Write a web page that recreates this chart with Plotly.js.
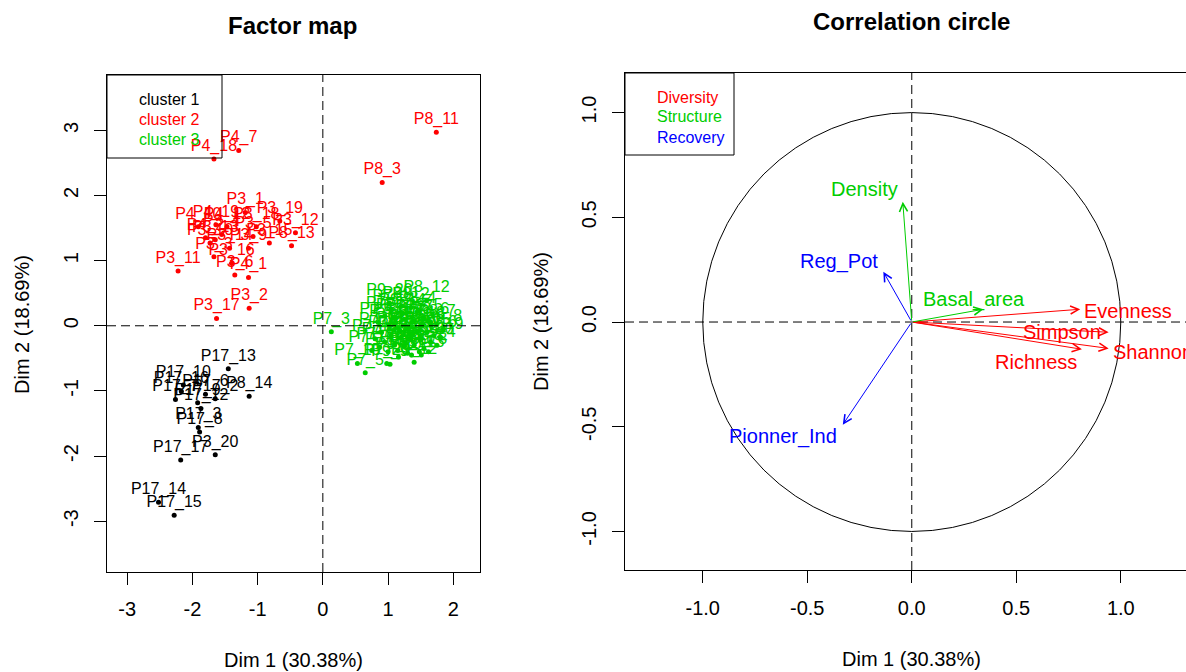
<!DOCTYPE html>
<html><head><meta charset="utf-8">
<script src="https://cdn.plot.ly/plotly-3.0.1.min.js"></script>
<style>html,body{margin:0;padding:0;background:#fff}#chart{width:1186px;height:672px}</style>
</head><body><div id="chart"></div>
<script>
// ---------- DATA: factor map (individuals) ----------
const cluster1Names = ["P17_13","P8_14","P17_10","P17_16","P17_7","P17_2","P17_9","P17_12","P17_3","P17_8","P3_20","P17_17","P17_14","P17_15","P17_6"];
const cluster1X = [-1.45,-1.13,-2.14,-2.17,-2.26,-1.65,-1.92,-1.87,-1.91,-1.89,-1.65,-2.18,-2.52,-2.28,-1.80];
const cluster1Y = [-0.66,-1.08,-0.91,-1.01,-1.13,-1.12,-1.18,-1.27,-1.56,-1.63,-1.98,-2.06,-2.71,-2.91,-1.05];

const cluster2Names = ["P8_11","P8_3","P4_7","P4_18","P3_1","P3_19","P3_12","P8_13","P3_15","P3_11","P3_6","P4_1","P3_2","P3_17","P4_19","P4_10","P4_12","P3_10","P3_13","P3_14","P3_3","P3_16","P3_9","P3_5","P3_18","P4_2","P3_4"];
const cluster2X = [1.74,0.91,-1.29,-1.67,-1.19,-0.66,-0.42,-0.48,-0.82,-2.22,-1.35,-1.14,-1.13,-1.63,-1.64,-1.91,-1.47,-1.73,-1.65,-1.43,-1.67,-1.40,-1.14,-1.07,-1.02,-1.80,-1.55];
const cluster2Y = [2.97,2.20,2.69,2.56,1.74,1.61,1.43,1.23,1.27,0.84,0.78,0.74,0.27,0.11,1.55,1.52,1.52,1.27,1.32,1.19,1.06,0.96,1.19,1.37,1.52,1.35,1.40];

const cluster3Names = ["P7_1","P7_2","P7_3","P7_4","P7_5","P7_6","P7_7","P7_8","P7_9","P7_10","P7_11","P7_12","P7_13","P7_14","P7_15","P7_16","P7_17","P7_18","P7_19","P7_20",
  "P8_1","P8_2","P8_4","P8_5","P8_6","P8_7","P8_8","P8_9","P8_10","P8_12","P8_15","P8_16","P8_17","P8_18","P8_19","P8_20",
  "P9_1","P9_2","P9_3","P9_4","P9_5","P9_6","P9_7","P9_8","P9_9","P9_10","P9_11","P9_12","P9_13","P9_14","P9_15","P9_16","P9_17","P9_18","P9_19","P9_20"];
const cluster3X = [1.05,0.95,0.13,1.10,0.65,1.25,1.40,0.85,1.00,1.15,0.90,1.05,0.80,0.95,0.53,1.10,0.75,1.00,0.87,0.98,
  1.20,1.35,1.45,1.55,1.65,1.75,1.85,1.30,1.45,1.59,1.60,1.70,1.20,1.35,1.50,1.65,
  1.25,1.40,1.55,1.75,1.15,1.30,1.48,1.62,1.03,1.16,1.36,1.40,1.51,1.22,1.12,1.38,1.18,1.52,1.80,1.02];
const cluster3Y = [0.25,0.15,-0.09,0.12,-0.72,0.10,0.08,0.05,0.02,-0.02,-0.10,-0.15,-0.20,-0.25,-0.58,-0.30,-0.38,-0.40,-0.33,-0.58,
  0.30,0.28,0.22,0.12,0.05,0.02,-0.05,-0.05,-0.08,0.39,-0.10,-0.15,-0.18,-0.20,-0.22,-0.25,
  -0.32,-0.30,-0.35,-0.30,-0.38,-0.42,-0.40,-0.40,-0.59,-0.48,-0.45,-0.56,-0.45,0.20,0.05,-0.12,-0.08,0.00,-0.18,0.35];

const clusterLabels = ["cluster 1","cluster 2","cluster 3"];

// ---------- DATA: correlation circle (variables) ----------
const varNames = ["Evenness","Simpson","Shannon","Richness","Basal_area","Density","Reg_Pot","Pionner_Ind"];
const varDim1  = [0.806, 0.942, 0.942, 0.814, 0.343, -0.043, -0.136, -0.330];
const varDim2  = [0.061, -0.049, -0.126, -0.130, 0.061, 0.574, 0.240, -0.490];
const varGroup = [0,0,0,0,1,1,2,2];
const groupLabels = ["Diversity","Structure","Recovery"];

const xTicksLeft = [-3,-2,-1,0,1,2];
const xTicksLeftText = ["-3","-2","-1","0","1","2"];
const yTicksLeft = [-3,-2,-1,0,1,2,3];
const yTicksLeftText = ["-3","-2","-1","0","1","2","3"];
const ticksRight = [-1,-0.5,0,0.5,1];
const ticksRightText = ["-1.0","-0.5","0.0","0.5","1.0"];

// ---------- STYLE ----------
const W = 1186, H = 672;
const FONT = "Liberation Sans, Arial, Helvetica, sans-serif";
const clusterColors = ["#000000","#FF0000","#00CD00"];
const groupColors = ["#FF0000","#00CD00","#0000FF"];
const px = v => v / W;
const py = v => 1 - v / H;

// label placement for variable names (pixel shifts relative to arrow tip)
const labelStyle = [
  {xanchor:"left",   xshift:2,   yshift:-2},
  {xanchor:"right",  xshift:-6,  yshift:0},
  {xanchor:"left",   xshift:2,   yshift:-4},
  {xanchor:"center", xshift:-46, yshift:-13},
  {xanchor:"center", xshift:-9,  yshift:10},
  {xanchor:"center", xshift:-38, yshift:13},
  {xanchor:"center", xshift:-44, yshift:10},
  {xanchor:"center", xshift:-60, yshift:-12}
];

const clusters = [
  [cluster1X, cluster1Y, cluster1Names],
  [cluster2X, cluster2Y, cluster2Names],
  [cluster3X, cluster3Y, cluster3Names]
];

const traces = clusters.map((c, i) => ({
  type: "scatter", mode: "markers+text",
  x: c[0], y: c[1], text: c[2],
  textposition: "top center",
  textfont: {family: FONT, size: 16, color: clusterColors[i]},
  marker: {size: 5, color: clusterColors[i]},
  xaxis: "x", yaxis: "y", hoverinfo: "skip", showlegend: false
}));

traces.push({
  type: "scatter", mode: "markers",
  x: varDim1, y: varDim2, marker: {size: 1, opacity: 0},
  xaxis: "x2", yaxis: "y2", hoverinfo: "skip", showlegend: false
});

const axisBase = {
  showgrid: false, zeroline: false, showline: true, linecolor: "#000", linewidth: 1,
  ticks: "outside", ticklen: 12, tickcolor: "#000", tickwidth: 1,
  tickfont: {family: FONT, size: 20, color: "#000"}, fixedrange: true
};

const dashLine = {color: "#000", width: 1, dash: "9px,5px"};

const shapes = [
  // factor map dashed axes
  {type:"line", xref:"x", yref:"y domain", x0:0, x1:0, y0:0, y1:1, line:dashLine},
  {type:"line", xref:"x domain", yref:"y", x0:0, x1:1, y0:0, y1:0, line:dashLine},
  // correlation circle dashed axes
  {type:"line", xref:"x2", yref:"y2 domain", x0:0, x1:0, y0:0, y1:1, line:dashLine},
  {type:"line", xref:"x2 domain", yref:"y2", x0:0, x1:1, y0:0, y1:0, line:dashLine},
  // unit circle
  {type:"circle", xref:"x2", yref:"y2", x0:-1, x1:1, y0:-1, y1:1, line:{color:"#000", width:1}},
  // legend boxes
  {type:"rect", xref:"paper", yref:"paper", x0:px(107), x1:px(222), y0:py(158), y1:py(75), line:{color:"#000", width:1}},
  {type:"rect", xref:"paper", yref:"paper", x0:px(625), x1:px(734), y0:py(155), y1:py(73), line:{color:"#000", width:1}}
];

const annotations = [];
// titles
annotations.push({xref:"paper", yref:"paper", x:px(292), y:py(26), text:"<b>Factor map</b>", showarrow:false, xanchor:"center", yanchor:"middle", font:{family:FONT, size:24, color:"#000"}});
annotations.push({xref:"paper", yref:"paper", x:px(911), y:py(22), text:"<b>Correlation circle</b>", showarrow:false, xanchor:"center", yanchor:"middle", font:{family:FONT, size:24, color:"#000"}});
// axis titles
annotations.push({xref:"paper", yref:"paper", x:px(293), y:py(660), text:"Dim 1 (30.38%)", showarrow:false, xanchor:"center", yanchor:"middle", font:{family:FONT, size:20, color:"#000"}});
annotations.push({xref:"paper", yref:"paper", x:px(911), y:py(659), text:"Dim 1 (30.38%)", showarrow:false, xanchor:"center", yanchor:"middle", font:{family:FONT, size:20, color:"#000"}});
annotations.push({xref:"paper", yref:"paper", x:px(22), y:py(325), text:"Dim 2 (18.69%)", textangle:-90, showarrow:false, xanchor:"center", yanchor:"middle", font:{family:FONT, size:20, color:"#000"}});
annotations.push({xref:"paper", yref:"paper", x:px(541), y:py(322), text:"Dim 2 (18.69%)", textangle:-90, showarrow:false, xanchor:"center", yanchor:"middle", font:{family:FONT, size:20, color:"#000"}});
// legends
clusterLabels.forEach((t, i) => annotations.push({xref:"paper", yref:"paper", x:px(137), y:py(99 + 20*i), text:t, showarrow:false, xanchor:"left", yanchor:"middle", font:{family:FONT, size:16, color:clusterColors[i]}}));
groupLabels.forEach((t, i) => annotations.push({xref:"paper", yref:"paper", x:px(655), y:py(97 + 20*i), text:t, showarrow:false, xanchor:"left", yanchor:"middle", font:{family:FONT, size:16, color:groupColors[i]}}));
// arrows and variable labels
varNames.forEach((name, i) => {
  const col = groupColors[varGroup[i]];
  annotations.push({xref:"x2", yref:"y2", axref:"x2", ayref:"y2", x:varDim1[i], y:varDim2[i], ax:0, ay:0,
    text:"", showarrow:true, arrowhead:5, arrowsize:1.6, arrowwidth:1, arrowcolor:col, standoff:0, startstandoff:0});
  const s = labelStyle[i];
  annotations.push({xref:"x2", yref:"y2", x:varDim1[i], y:varDim2[i], text:name, showarrow:false,
    xanchor:s.xanchor, yanchor:"middle", xshift:s.xshift, yshift:s.yshift,
    font:{family:FONT, size:20, color:col}});
});

const layout = {
  width: W, height: H,
  margin: {l:0, r:0, t:0, b:0},
  paper_bgcolor: "#fff", plot_bgcolor: "#fff",
  showlegend: false,
  font: {family: FONT, color: "#000"},
  xaxis: Object.assign({}, axisBase, {domain:[px(107), px(480)], range:[-3.31, 2.41], tickvals:xTicksLeft, ticktext:xTicksLeftText, mirror:true, anchor:"y", ticklabelstandoff:7}),
  yaxis: Object.assign({}, axisBase, {domain:[py(572), py(75)], range:[-3.78, 3.85], tickvals:yTicksLeft, ticktext:yTicksLeftText, tickangle:-90, mirror:true, anchor:"x", ticklabelstandoff:8}),
  xaxis2: Object.assign({}, axisBase, {domain:[px(625), 1], range:[-1.372, 1.312], tickvals:ticksRight, ticktext:ticksRightText, mirror:true, anchor:"y2", ticklabelstandoff:8}),
  yaxis2: Object.assign({}, axisBase, {domain:[py(570), py(73)], range:[-1.184, 1.189], tickvals:ticksRight, ticktext:ticksRightText, tickangle:-90, mirror:false, anchor:"x2", ticklabelstandoff:8}),
  shapes: shapes,
  annotations: annotations
};

Plotly.newPlot("chart", traces, layout, {staticPlot: true, displayModeBar: false});
</script></body></html>
